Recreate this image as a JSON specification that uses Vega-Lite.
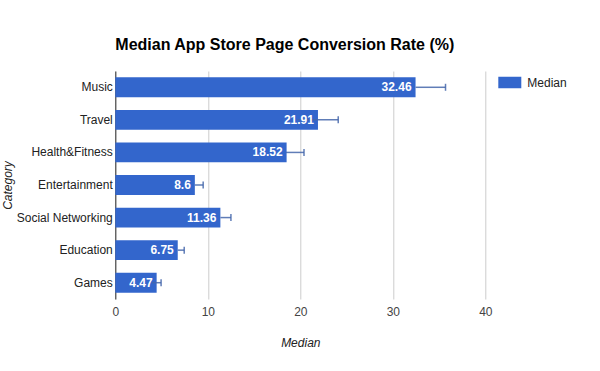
{
  "$schema": "https://vega.github.io/schema/vega-lite/v6.json",
  "width": 370,
  "height": 228,
  "autosize": "none",
  "padding": {"left": 115.3, "top": 71, "right": 114.7, "bottom": 72},
  "background": "white",
  "title": {
    "text": "Median App Store Page Conversion Rate (%)",
    "anchor": "start",
    "frame": "group",
    "font": "Liberation Sans",
    "fontSize": 16,
    "fontWeight": "bold",
    "color": "#000000",
    "baseline": "alphabetic",
    "offset": 5
  },
  "config": {
    "view": {"stroke": null},
    "font": "Liberation Sans"
  },
  "data": {
    "values": [
      {"Category": "Music", "Median": 32.46, "low": 32.46, "high": 35.7},
      {"Category": "Travel", "Median": 21.91, "low": 19.7, "high": 24.1},
      {"Category": "Health&Fitness", "Median": 18.52, "low": 18.45, "high": 20.4},
      {"Category": "Entertainment", "Median": 8.6, "low": 8.6, "high": 9.5},
      {"Category": "Social Networking", "Median": 11.36, "low": 11.36, "high": 12.5},
      {"Category": "Education", "Median": 6.75, "low": 6.75, "high": 7.45},
      {"Category": "Games", "Median": 4.47, "low": 3.95, "high": 4.95}
    ]
  },
  "encoding": {
    "y": {
      "field": "Category",
      "type": "nominal",
      "sort": null,
      "scale": {"paddingInner": 0.39, "paddingOuter": 0.195},
      "axis": {
        "title": "Category",
        "titleFont": "Liberation Sans",
        "titleFontSize": 12,
        "titleFontStyle": "italic",
        "titleFontWeight": "normal",
        "titleColor": "#222222",
        "titlePadding": 2,
        "labelFont": "Liberation Sans",
        "labelFontSize": 12,
        "labelColor": "#222222",
        "labelPadding": 3,
        "ticks": false,
        "domain": true,
        "domainColor": "#333333",
        "domainWidth": 1
      }
    }
  },
  "layer": [
    {
      "mark": {"type": "bar", "color": "#3366cc"},
      "encoding": {
        "x": {
          "field": "Median",
          "type": "quantitative",
          "scale": {"domain": [0, 40], "nice": false},
          "axis": {
            "values": [0, 10, 20, 30, 40],
            "title": "Median",
            "titleFont": "Liberation Sans",
            "titleFontSize": 12,
            "titleFontStyle": "italic",
            "titleFontWeight": "normal",
            "titleColor": "#222222",
            "titlePadding": 20,
            "labelFont": "Liberation Sans",
            "labelFontSize": 12,
            "labelColor": "#444444",
            "labelPadding": 7,
            "ticks": false,
            "domain": false,
            "grid": true,
            "gridColor": "#cccccc",
            "labelFlush": false
          }
        },
        "fill": {
          "datum": "Median",
          "type": "nominal",
          "scale": {"domain": ["Median"], "range": ["#3366cc"]},
          "legend": {
            "title": null,
            "orient": "none",
            "legendX": 383,
            "legendY": 0,
            "padding": 0,
            "symbolType": "M-1,-0.5H1V0.5H-1Z",
            "symbolSize": 529,
            "symbolStrokeWidth": 0,
            "labelFont": "Liberation Sans",
            "labelFontSize": 12,
            "labelColor": "#222222",
            "labelOffset": 6
          }
        }
      }
    },
    {
      "mark": {"type": "rule", "color": "#4466aa", "strokeWidth": 1.5, "opacity": 0.85},
      "encoding": {
        "x": {"field": "low", "type": "quantitative"},
        "x2": {"field": "high"}
      }
    },
    {
      "mark": {"type": "tick", "orient": "vertical", "color": "#4466aa", "thickness": 1.5, "size": 7, "opacity": 0.85},
      "encoding": {
        "x": {"field": "high", "type": "quantitative"}
      }
    },
    {
      "mark": {"type": "text", "align": "right", "dx": -4, "font": "Liberation Sans", "fontSize": 12, "fontWeight": "bold", "color": "white"},
      "encoding": {
        "x": {"field": "Median", "type": "quantitative"},
        "text": {"field": "Median", "type": "quantitative"}
      }
    }
  ]
}
